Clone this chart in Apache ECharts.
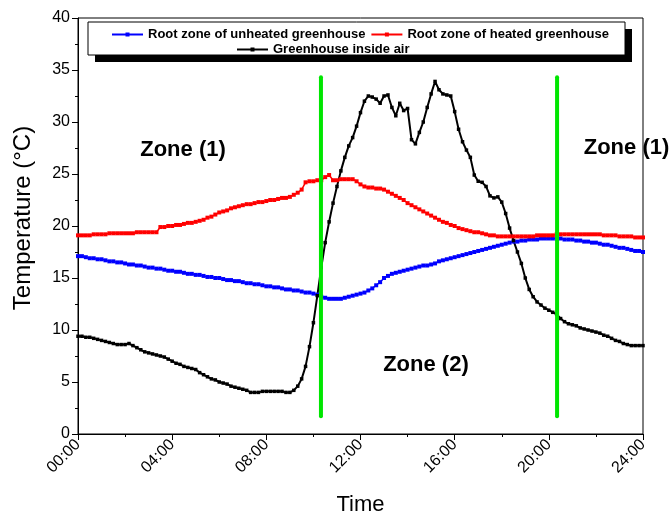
<!DOCTYPE html>
<html><head><meta charset="utf-8">
<script src="https://cdn.jsdelivr.net/npm/echarts@6/dist/echarts.min.js"></script>
<style>html,body{margin:0;padding:0;background:#fff}#c{width:670px;height:521px}</style>
</head><body><div id="c"></div>
<script>
// readings every 10 minutes, 00:00 .. 24:00
const stepMinutes = 10;
const unheated = [
17.1,17.1,17.0,16.9,16.9,16.8, 16.8,16.7,16.6,16.6,16.5,16.5,
16.4,16.3,16.3,16.2,16.2,16.1, 16.0,16.0,15.9,15.9,15.8,15.7,
15.7,15.6,15.6,15.5,15.4,15.4, 15.3,15.3,15.2,15.1,15.1,15.0,
15.0,14.9,14.8,14.8,14.7,14.7, 14.6,14.5,14.5,14.4,14.4,14.3,
14.2,14.2,14.1,14.1,14.0,13.9, 13.9,13.8,13.8,13.7,13.6,13.6,
13.5,13.4,13.2,13.1,13.0,13.0, 13.0,13.0,13.1,13.2,13.3,13.4,
13.5,13.6,13.8,14.0,14.3,14.6, 15.0,15.2,15.4,15.5,15.6,15.7,
15.8,15.9,16.0,16.1,16.2,16.2, 16.3,16.4,16.6,16.7,16.8,16.9,
17.0,17.1,17.2,17.3,17.4,17.5, 17.6,17.7,17.8,17.9,18.0,18.1,
18.2,18.3,18.4,18.5,18.5,18.6, 18.6,18.7,18.7,18.7,18.8,18.8,
18.8,18.8,18.8,18.8,18.7,18.7, 18.7,18.6,18.6,18.5,18.5,18.4,
18.4,18.3,18.2,18.2,18.1,18.0, 17.9,17.9,17.8,17.7,17.6,17.6,
17.5];
const heated = [
19.1,19.1,19.1,19.1,19.2,19.2, 19.2,19.2,19.3,19.3,19.3,19.3,
19.3,19.3,19.3,19.4,19.4,19.4, 19.4,19.4,19.4,19.9,19.9,20.0,
20.0,20.1,20.1,20.2,20.3,20.3, 20.4,20.5,20.6,20.8,20.9,21.1,
21.3,21.4,21.5,21.7,21.8,21.9, 22.0,22.1,22.1,22.2,22.3,22.3,
22.4,22.5,22.5,22.6,22.7,22.7, 22.8,23.0,23.2,23.5,24.2,24.3,
24.3,24.4,24.4,24.7,24.9,24.4, 24.4,24.5,24.5,24.5,24.5,24.3,
24.0,23.8,23.7,23.7,23.6,23.6, 23.5,23.3,23.1,22.9,22.7,22.5,
22.2,22.0,21.8,21.6,21.4,21.2, 21.0,20.8,20.6,20.4,20.3,20.1,
20.0,19.8,19.7,19.6,19.5,19.4, 19.4,19.3,19.2,19.1,19.1,19.0,
19.0,19.0,19.0,19.0,19.0,19.0, 19.0,19.0,19.0,19.1,19.1,19.1,
19.1,19.1,19.2,19.2,19.2,19.2, 19.2,19.2,19.2,19.2,19.2,19.2,
19.2,19.2,19.1,19.1,19.1,19.1, 19.0,19.0,19.0,19.0,18.9,18.9,
18.9];
const insideAir = [
9.4,9.4,9.3,9.3,9.2,9.1, 9.0,8.9,8.8,8.7,8.6,8.6,
8.6,8.7,8.5,8.3,8.1,7.9, 7.8,7.7,7.6,7.5,7.4,7.2,
7.0,6.8,6.7,6.5,6.4,6.3, 6.2,5.9,5.7,5.5,5.3,5.2,
5.0,4.9,4.8,4.6,4.5,4.4, 4.3,4.2,4.0,4.0,4.0,4.1,
4.1,4.1,4.1,4.1,4.1,4.0, 4.0,4.2,4.6,5.3,6.5,8.4,
10.7,13.3,16.0,18.4,20.4,22.2, 23.8,25.3,26.6,27.7,28.5,29.6,
30.9,32.0,32.5,32.4,32.2,31.8, 32.5,32.6,31.4,30.6,31.8,31.1,
31.3,28.3,27.9,29.0,30.0,31.4, 32.7,33.9,33.1,32.7,32.6,32.5,
31.0,29.3,28.1,27.3,26.6,24.9, 24.3,24.2,23.8,22.9,22.7,22.8,
22.3,21.2,19.8,18.6,17.5,16.4, 15.0,13.9,13.2,12.7,12.4,12.1,
11.9,11.7,11.5,11.1,10.8,10.6, 10.5,10.4,10.2,10.1,10.0,9.9,
9.8,9.7,9.5,9.4,9.2,9.0, 8.9,8.7,8.6,8.5,8.5,8.5,
8.5];
const xTickLabels = ['00:00','04:00','08:00','12:00','16:00','20:00','24:00'];
const boundaryHours = [10.32, 20.35];
const boundaryRange = [1.7, 34.3];
const zoneNames = ['Zone (1)', 'Zone (2)', 'Zone (1)'];
const zoneHours = [4.46, 14.78, 23.3];
const zoneTemps = [27.3, 6.6, 27.5];
const seriesNames = ['Root zone of unheated greenhouse','Root zone of heated greenhouse','Greenhouse inside air'];

const FONT = 'Liberation Sans, Arial, sans-serif';
const toPairs = arr => arr.map((v, i) => [i * stepMinutes / 60, v]);
const lineSeries = (name, arr, color, size, lw) => ({
  name, type: 'line', data: toPairs(arr), symbol: 'rect', symbolSize: size,
  showAllSymbol: true, itemStyle: {color}, lineStyle: {color, width: lw},
  emphasis: {disabled: true}, animation: false, z: 3
});
const greenSeries = boundaryHours.map(h => ({
  type: 'line', data: boundaryRange.map(t => [h, t]), symbol: 'none',
  lineStyle: {color: '#00e600', width: 4, cap: 'round'}, z: 5, animation: false, silent: true
}));
const legendText = {fontFamily: FONT, fontWeight: 'bold', fontSize: 13, color: '#000'};

const chart = echarts.init(document.getElementById('c'), null, {renderer: 'canvas'});
chart.setOption({
  backgroundColor: '#fff',
  animation: false,
  grid: {left: 78, right: 27, top: 18, bottom: 86, show: true, borderColor: '#000', borderWidth: 1},
  legend: [
    {data: seriesNames.slice(0, 2), left: 106, top: 23, itemWidth: 31, itemHeight: 5, itemGap: 5, z: 30,
     textStyle: legendText},
    {data: seriesNames.slice(2), left: 231, top: 38, itemWidth: 31, itemHeight: 5, z: 30,
     textStyle: legendText}
  ],
  xAxis: {
    type: 'value', min: 0, max: 24, interval: 4,
    name: 'Time', nameLocation: 'middle', nameGap: 60,
    nameTextStyle: {fontFamily: FONT, fontSize: 22, color: '#000'},
    axisLine: {lineStyle: {color: '#000'}},
    axisTick: {show: true, length: 6, lineStyle: {color: '#000'}},
    minorTick: {show: true, splitNumber: 2, length: 3, lineStyle: {color: '#000'}},
    splitLine: {show: false},
    axisLabel: {rotate: 45, fontFamily: FONT, fontSize: 16, color: '#000', margin: 8,
      formatter: v => xTickLabels[v / 4]}
  },
  yAxis: {
    type: 'value', min: 0, max: 40, interval: 5,
    name: 'Temperature (°C)', nameLocation: 'middle', nameGap: 43,
    nameTextStyle: {fontFamily: FONT, fontSize: 24, color: '#000', padding: [0, 0, 0, 16]},
    axisLine: {show: true, lineStyle: {color: '#000'}},
    axisTick: {show: true, length: 6, lineStyle: {color: '#000'}},
    minorTick: {show: true, splitNumber: 2, length: 3, lineStyle: {color: '#000'}},
    splitLine: {show: false},
    axisLabel: {fontFamily: FONT, fontSize: 16, color: '#000', margin: 8}
  },
  series: [
    lineSeries(seriesNames[0], unheated, '#0000ff', 4, 1.5),
    lineSeries(seriesNames[1], heated, '#ff0000', 4, 1.5),
    lineSeries(seriesNames[2], insideAir, '#000000', 3.5, 2),
    ...greenSeries
  ]
});
// legend frame and zone annotations (zone texts placed through the chart's own scales)
const zoneTexts = zoneNames.map((n, i) => {
  const p = chart.convertToPixel({gridIndex: 0}, [zoneHours[i], zoneTemps[i]]);
  return {id: 'zone' + i, type: 'text', z: 40, x: p[0], y: p[1],
    style: {text: n, fill: '#000', font: 'bold 22px ' + FONT, align: 'center', verticalAlign: 'middle'}};
});
chart.setOption({
  graphic: [
    {id: 'legShadow', type: 'rect', z: 20, shape: {x: 95, y: 29, width: 537, height: 33}, style: {fill: '#000'}},
    {id: 'legBox', type: 'rect', z: 21, shape: {x: 88, y: 22, width: 537, height: 33}, style: {fill: '#fff', stroke: '#000', lineWidth: 1}},
    ...zoneTexts
  ]
});
</script></body></html>
